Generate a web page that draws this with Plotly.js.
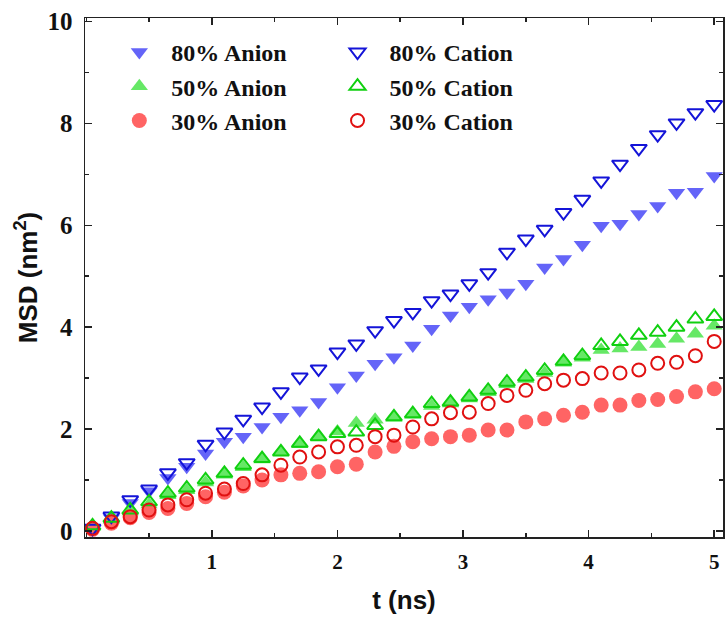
<!DOCTYPE html>
<html>
<head>
<meta charset="utf-8">
<script src="https://cdn.plot.ly/plotly-3.0.1.min.js"></script>
<style>html,body{margin:0;padding:0;background:#fff;}#chart{width:727px;height:621px;}</style>
</head>
<body>
<div id="chart"></div>
<script>
// Time points (ns)
var t = [0.05,0.20,0.35,0.50,0.65,0.80,0.95,1.10,1.25,1.40,1.55,1.70,1.85,2.00,2.15,2.30,2.45,2.60,2.75,2.90,3.05,3.20,3.35,3.50,3.65,3.80,3.95,4.10,4.25,4.40,4.55,4.70,4.85,5.00];

var anion80 = [0.05,0.25,0.55,0.78,1.04,1.26,1.52,1.75,1.85,2.04,2.24,2.37,2.53,2.82,3.05,3.28,3.41,3.64,3.97,4.23,4.40,4.55,4.68,4.85,5.17,5.34,5.62,5.99,6.03,6.22,6.38,6.64,6.66,6.97];
var cation80 = [0.05,0.29,0.61,0.82,1.14,1.34,1.70,1.94,2.19,2.43,2.73,3.02,3.18,3.51,3.67,3.93,4.13,4.29,4.52,4.65,4.85,5.07,5.47,5.73,5.92,6.25,6.51,6.87,7.20,7.51,7.78,8.01,8.21,8.37];
var anion50 = [0.08,0.22,0.38,0.52,0.70,0.80,0.95,1.10,1.25,1.40,1.55,1.70,1.85,1.95,2.12,2.18,2.22,2.28,2.45,2.50,2.60,2.72,2.88,2.98,3.10,3.30,3.40,3.55,3.58,3.61,3.67,3.77,3.87,4.03];
var cation50 = [0.10,0.25,0.41,0.57,0.74,0.84,1.00,1.13,1.29,1.42,1.55,1.72,1.85,1.91,1.94,2.07,2.24,2.30,2.50,2.53,2.63,2.76,2.92,3.02,3.15,3.33,3.44,3.64,3.72,3.84,3.90,4.00,4.16,4.21];
var anion30 = [0.03,0.15,0.26,0.36,0.44,0.54,0.67,0.76,0.88,1.00,1.10,1.13,1.16,1.26,1.31,1.55,1.66,1.75,1.81,1.85,1.88,1.98,1.98,2.14,2.20,2.27,2.33,2.47,2.47,2.56,2.58,2.64,2.73,2.79];
var cation30 = [0.05,0.18,0.28,0.41,0.51,0.61,0.74,0.82,0.93,1.10,1.29,1.45,1.55,1.65,1.68,1.85,1.88,2.04,2.20,2.32,2.33,2.50,2.66,2.76,2.89,2.96,2.99,3.10,3.10,3.16,3.29,3.31,3.44,3.72];

var names = ['80% Anion','50% Anion','30% Anion','80% Cation','50% Cation','30% Cation'];
var xTickVals = [1,2,3,4,5];
var yTickVals = [0,2,4,6,8,10];

function filled(y, name, sym, color, size) {
  return {x: t, y: y, name: name, type: 'scatter', mode: 'markers', legend: 'legend',
    marker: {symbol: sym, size: size, color: color, line: {width: 0}}};
}
function open(y, name, sym, color, size) {
  return {x: t, y: y, name: name, type: 'scatter', mode: 'markers', legend: 'legend2',
    marker: {symbol: sym, size: size, color: color, line: {width: 2}}};
}

var data = [
  filled(anion80, names[0], 'triangle-down', '#6464f8', 15),
  filled(anion50, names[1], 'triangle-up', '#66e866', 15),
  filled(anion30, names[2], 'circle', '#ff6464', 15),
  open(cation80, names[3], 'triangle-down-open', '#1414d8', 14),
  open(cation50, names[4], 'triangle-up-open', '#10d010', 14),
  open(cation30, names[5], 'circle-open', '#e01010', 13)
];

var serif = 'Liberation Serif, Times New Roman, serif';
var sans = 'Liberation Sans, Arial, sans-serif';
var legFont = {family: serif, size: 24, weight: 'bold', color: '#111'};

var layout = {
  width: 727, height: 621,
  margin: {l: 85, r: 4, t: 18, b: 84},
  paper_bgcolor: '#fff', plot_bgcolor: '#fff',
  showlegend: true,
  xaxis: {
    range: [-0.01, 5.07], tickmode: 'array', tickvals: xTickVals,
    ticks: 'inside', ticklen: 7, tickwidth: 1.5, tickcolor: '#222',
    minor: {tickmode: 'linear', tick0: 0, dtick: 0.5, ticks: 'inside', ticklen: 4, tickwidth: 1.5, tickcolor: '#222'},
    showline: true, linecolor: '#222', linewidth: 1.5, mirror: 'allticks',
    showgrid: false, zeroline: false,
    tickfont: {family: serif, size: 21, weight: 'bold', color: '#111'}, ticklabelstandoff: 5,
    title: {text: 't (ns)', font: {family: sans, size: 26, weight: 'bold', color: '#111'}, standoff: 18}
  },
  yaxis: {
    range: [-0.12, 10.07], tickmode: 'array', tickvals: yTickVals,
    ticks: 'inside', ticklen: 7, tickwidth: 1.5, tickcolor: '#222',
    minor: {tickmode: 'linear', tick0: 0, dtick: 1, ticks: 'inside', ticklen: 4, tickwidth: 1.5, tickcolor: '#222'},
    showline: true, linecolor: '#222', linewidth: 1.5, mirror: 'allticks',
    showgrid: false, zeroline: false,
    tickfont: {family: serif, size: 25, weight: 'bold', color: '#111'}, ticklabelstandoff: 6,
    title: {text: 'MSD (nm<sup>2</sup>)', font: {family: sans, size: 26, weight: 'bold', color: '#111'}, standoff: 2}
  },
  legend: {x: 0.035, y: 0.977, xanchor: 'left', yanchor: 'top', bgcolor: 'rgba(0,0,0,0)',
    font: legFont, itemwidth: 54, tracegroupgap: 0, itemsizing: 'trace'},
  legend2: {x: 0.377, y: 0.977, xanchor: 'left', yanchor: 'top', bgcolor: 'rgba(0,0,0,0)',
    font: legFont, itemwidth: 54, tracegroupgap: 0, itemsizing: 'trace'}
};

Plotly.newPlot('chart', data, layout, {displayModeBar: false, staticPlot: true});
</script>
</body>
</html>
